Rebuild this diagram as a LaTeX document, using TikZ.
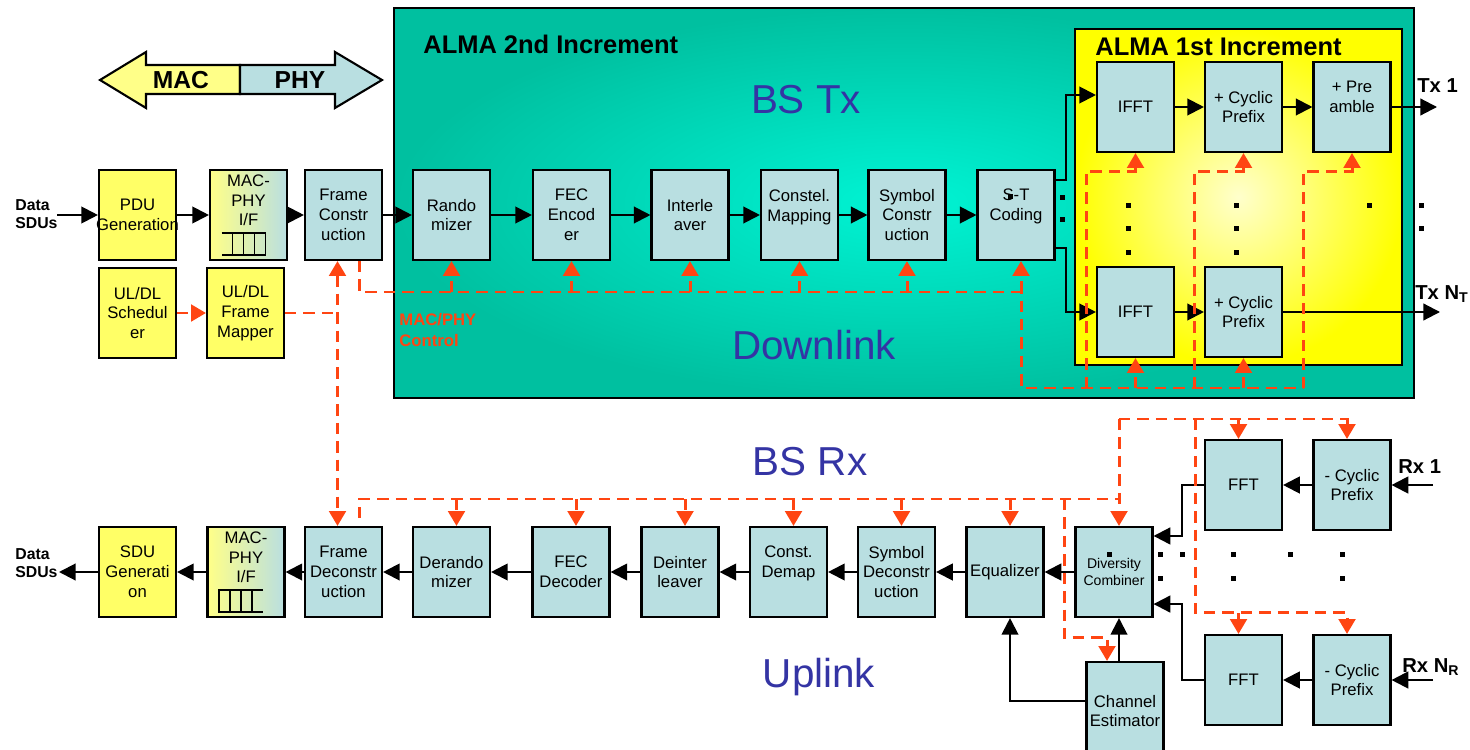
\documentclass[tikz,border=0pt]{standalone}
\usepackage{fontspec}
\setmainfont{Liberation Sans}
\usetikzlibrary{arrows.meta,calc,positioning}
\definecolor{ALMATeal}{HTML}{00C0A0}
\definecolor{ALMATealHi}{HTML}{00F4D4}
\definecolor{ALMAYellow}{HTML}{FFFF00}
\definecolor{ALMAYellowHi}{HTML}{FFFFCC}
\definecolor{BoxBlue}{HTML}{B9DFE1}
\definecolor{BoxYellow}{HTML}{FFFF66}
\definecolor{IFYellow}{HTML}{FFFF88}
\definecolor{CtlRed}{HTML}{FF4512}
\definecolor{LinkBlue}{HTML}{3434A4}
\tikzset{
  blk/.style={draw,line width=1.2pt,fill=BoxBlue,minimum width=1.54cm,minimum height=1.8cm,
    inner sep=1pt,align=center,font=\fontsize{9.5}{11.3}\selectfont},
  macblk/.style={blk,fill=BoxYellow},
  blktext/.style={align=center,inner sep=0pt,font=\fontsize{9.5}{11.3}\selectfont},
  flow/.style={line width=1.2pt,-{Triangle[length=9.5pt,width=9.5pt]}},
  ctl/.style={draw=CtlRed,line width=1.7pt,dash pattern=on 6.5pt off 4pt},
  ctltip/.style={ctl,-{Triangle[length=8.5pt,width=9.5pt]}},
  ctlboth/.style={ctl,{Triangle[length=8.5pt,width=9.5pt]}-{Triangle[length=8.5pt,width=9.5pt]}},
  incrname/.style={font=\fontsize{14.5}{17}\selectfont\bfseries,inner sep=0pt},
  linkname/.style={font=\fontsize{23}{26}\selectfont,text=LinkBlue},
  portname/.style={font=\fontsize{11.5}{13}\selectfont\bfseries,inner sep=0pt},
  sduname/.style={font=\fontsize{9}{10.5}\selectfont\bfseries,align=left,inner sep=0pt},
  ctlname/.style={font=\fontsize{9.5}{12}\selectfont\bfseries,text=CtlRed,align=left,inner sep=0pt},
  layername/.style={font=\fontsize{14}{16}\selectfont\bfseries}
}
\newcommand{\ifbox}[3]{% MAC-PHY interface box; #3=1 closes the queue on the right, -1 on the left
  \node[blk,left color=IFYellow,right color=BoxBlue] (#1) at #2 {};
  \node[blktext,below=3pt of #1.north] (#1txt) {MAC-\\PHY\\I/F};
  \draw[line width=1.1pt] ($(#1.south)+(-5-22*#3,-28)$) -- ++(44*#3,0) -- ++(0,22) -- ++(-44*#3,0)
    ($(#1.south)+(-16,-28)$) -- ++(0,22) ($(#1.south)+(-5,-28)$) -- ++(0,22)
    ($(#1.south)+(6,-28)$) -- ++(0,22);
}
\newcommand{\ctlup}[2]{\draw[ctltip] (#1.south |- #2) -- (#1.south);}
\newcommand{\ctldown}[2]{\draw[ctltip] ($(#1.north |- #2)+(5,0)$) -- ($(#1.north)+(5,0)$);}
\newcommand{\sqdot}[2]{\fill (#1,#2) +(-2.5,-2.5) rectangle +(2.5,2.5);}

\begin{document}
\begin{tikzpicture}[x=0.02cm,y=-0.02cm]
  \useasboundingbox (0,0) rectangle (1470,750);

  % MAC / PHY split
  \draw[line width=1.2pt,fill=IFYellow] (100,80) -- (146,52) -- (146,65) -- (240,65) -- (240,94) -- (146,94) -- (146,108) -- cycle;
  \draw[line width=1.2pt,fill=BoxBlue] (240,65) -- (335,65) -- (335,52) -- (382,80) -- (335,108) -- (335,94) -- (240,94) -- cycle;
  \node[layername] (mac) at (181,80) {MAC};
  \node[layername] (phy) at (300,80) {PHY};

  % increments
  \shadedraw[inner color=ALMATealHi,outer color=ALMATeal,line width=1.2pt] (394,8) rectangle (1414,398);
  \shadedraw[inner color=ALMAYellowHi,outer color=ALMAYellow,line width=1.2pt] (1075,29) rectangle (1402,365);
  \node[incrname,anchor=west] (alma2) at (423,44) {ALMA 2nd Increment};
  \node[incrname,anchor=west] (alma1) at (1095,47) {ALMA 1st Increment};
  \node[linkname] (bstx) at (806,100) {BS Tx};
  \node[linkname] (dl) at (814,345) {Downlink};
  \node[linkname] (bsrx) at (810,462) {BS Rx};
  \node[linkname] (ul) at (819,677) {Uplink};
  \node[ctlname,anchor=north west] (ctltxt) at (399,313) {MAC/PHY\\Control};

  % downlink
  \node[sduname,anchor=west] (sdutx) at (15,214) {Data\\SDUs};
  \coordinate (sduin) at (57,215);
  \node[macblk] (pdu) at (137.5,215) {PDU\\\makebox[0pt]{Generation}};
  \ifbox{ifmactx}{(248.5,215)}{1}
  \node[blk] (framecon) at (343.5,215) {Frame\\Constr\\uction};
  \node[blk] (rando) at (451.5,215) {Rando\\mizer};
  \node[blk] (fecenc) at (571.5,215) {FEC\\Encod\\er};
  \node[blk] (interl) at (690,215) {Interle\\aver};
  \node[blk] (constmap) at (799.5,215) {Constel.\\Mapping\\\phantom{M}};
  \node[blk] (symcon) at (907,215) {Symbol\\Constr\\uction};
  \node[blk] (stcod) at (1016,215) {S-T\\Coding\\\phantom{M}};
  \node[macblk] (sched) at (137.5,313) {UL/DL\\Schedul\\er};
  \node[macblk] (mapper) at (245.5,313) {UL/DL\\Frame\\Mapper};

  \node[blk] (ifftA) at (1135.5,107) {IFFT};
  \node[blk] (cpA) at (1243.5,107) {+ Cyclic\\Prefix};
  \node[blk] (pream) at (1352,107) {+ Pre\\amble\\\phantom{M}};
  \node[blk] (ifftB) at (1135.5,312) {IFFT};
  \node[blk] (cpB) at (1243.5,312) {+ Cyclic\\Prefix};
  \coordinate (txA) at (1437,107);
  \coordinate (txB) at (1440,312);
  \node[portname,anchor=west] (tx1) at (1417,86) {Tx 1};
  \node[portname,anchor=west] (txn) at (1415,294) {Tx N\textsubscript{T}};

  \draw[flow] (sduin) -- (pdu);
  \draw[flow] (pdu) -- (ifmactx);
  \draw[flow] (ifmactx) -- (framecon);
  \draw[flow] (framecon) -- (rando);
  \draw[flow] (rando) -- (fecenc);
  \draw[flow] (fecenc) -- (interl);
  \draw[flow] (interl) -- (constmap);
  \draw[flow] (constmap) -- (symcon);
  \draw[flow] (symcon) -- (stcod);
  \draw[flow] ($(stcod.north east)+(0,11)$) -- ++(10,0) |- ($(ifftA.west)+(0,-12)$);
  \draw[flow] ($(stcod.south east)+(0,-13)$) -- ++(10,0) |- (ifftB.west);
  \draw[flow] (ifftA) -- (cpA);
  \draw[flow] (cpA) -- (pream);
  \draw[flow] (pream) -- (txA);
  \draw[flow] (ifftB) -- (cpB);
  \draw[flow] (cpB) -- (txB);

  % uplink
  \node[sduname,anchor=west] (sdurx) at (15,563) {Data\\SDUs};
  \coordinate (sduout) at (59,572);
  \node[macblk] (sdugen) at (137.5,572) {SDU\\Generati\\on};
  \ifbox{ifmacrx}{(246,572)}{-1}
  \node[blk] (framedec) at (343.5,572) {Frame\\Deconstr\\uction};
  \node[blk] (derando) at (451.5,572) {Derando\\mizer};
  \node[blk] (fecdec) at (571,572) {FEC\\Decoder};
  \node[blk] (deintl) at (680,572) {Deinter\\leaver};
  \node[blk] (demap) at (788.5,572) {Const.\\Demap\\\phantom{M}};
  \node[blk] (symdec) at (896.5,572) {Symbol\\Deconstr\\uction};
  \node[blk] (equal) at (1005,572) {Equalizer};
  \node[blk,font=\fontsize{8}{10}\selectfont] (divcomb) at (1114,572) {Diversity\\Combiner};
  \node[blk,minimum height=1.96cm] (chest) at (1125,711) {Channel\\Estimator};
  \node[blk] (fftA) at (1243.5,485) {FFT};
  \node[blk] (rcpA) at (1352,485) {- Cyclic\\Prefix};
  \node[blk] (fftB) at (1243.5,680) {FFT};
  \node[blk] (rcpB) at (1352,680) {- Cyclic\\Prefix};
  \coordinate (rxA) at (1433,485);
  \coordinate (rxB) at (1433,680);
  \node[portname,anchor=west] (rx1) at (1398,467) {Rx 1};
  \node[portname,anchor=west] (rxn) at (1402,667) {Rx N\textsubscript{R}};

  \draw[flow] (rxA) -- (rcpA);
  \draw[flow] (rcpA) -- (fftA);
  \draw[flow] (fftA.west) -- ++(-22,0) |- ($(divcomb.north east)+(0,10)$);
  \draw[flow] (rxB) -- (rcpB);
  \draw[flow] (rcpB) -- (fftB);
  \draw[flow] (fftB.west) -- ++(-22,0) |- ($(divcomb.south east)+(0,-14)$);
  \draw[flow] ($(chest.north)+(-6,0)$) -- ($(divcomb.south)+(5,0)$);
  \draw[flow] ($(chest.west)+(0,-10)$) -| ($(equal.south)+(5,0)$);
  \draw[flow] (divcomb) -- (equal);
  \draw[flow] (equal) -- (symdec);
  \draw[flow] (symdec) -- (demap);
  \draw[flow] (demap) -- (deintl);
  \draw[flow] (deintl) -- (fecdec);
  \draw[flow] (fecdec) -- (derando);
  \draw[flow] (derando) -- (framedec);
  \draw[flow] (framedec) -- (ifmacrx);
  \draw[flow] (ifmacrx) -- (sdugen);
  \draw[flow] (sdugen) -- (sduout);

  % MAC/PHY control
  \coordinate (tbus) at (1021,292);
  \coordinate (ybus) at (1303,388);
  \coordinate (rbus) at (1119,499);
  \coordinate (fbus) at (1119,419);
  \draw[ctltip] (sched) -- (mapper);
  \draw[ctl] (mapper.east) -- ++(53,0);
  \draw[ctlboth] ($(framecon.south)+(-6,0)$) -- ($(framedec.north)+(-6,0)$);

  \draw[ctl] ($(framecon.south)+(16,0)$) |- (tbus) |- (ybus);
  \ctlup{rando}{tbus}
  \ctlup{fecenc}{tbus}
  \ctlup{interl}{tbus}
  \ctlup{constmap}{tbus}
  \ctlup{symcon}{tbus}
  \draw[ctltip] (tbus) -- (tbus |- stcod.south);
  \draw[ctltip] (1086,388) |- ($(ifftA.south)+(0,18)$) -- (ifftA.south);
  \draw[ctltip] (1194,388) |- ($(cpA.south)+(0,18)$) -- (cpA.south);
  \draw[ctltip] (ybus) |- ($(pream.south)+(0,18)$) -- (pream.south);
  \ctlup{ifftB}{ybus}
  \ctlup{cpB}{ybus}

  \draw[ctl] ($(framedec.north)+(16,-8)$) |- (rbus);
  \ctldown{derando}{rbus}
  \ctldown{fecdec}{rbus}
  \ctldown{deintl}{rbus}
  \ctldown{demap}{rbus}
  \ctldown{symdec}{rbus}
  \ctldown{equal}{rbus}
  \draw[ctltip] (fbus) -- (fbus |- divcomb.north);
  \draw[ctltip] (fbus) -| ($(rcpA.north)+(-5,0)$);
  \draw[ctltip] ($(fftA.north |- fbus)+(-5,0)$) -- ($(fftA.north)+(-5,0)$);
  \draw[ctltip] (1195,419) |- ($(rcpB.north)+(-5,-21)$) -- ($(rcpB.north)+(-5,0)$);
  \draw[ctltip] ($(fftB.north)+(-5,-21)$) -- ($(fftB.north)+(-5,0)$);
  \draw[ctltip] (1064,499) |- ($(chest.north)+(-18,-23)$) -- ($(chest.north)+(-18,0)$);

  % antenna branch dots
  \sqdot{1062}{197} \sqdot{1062}{219} \sqdot{1010}{196}
  \sqdot{1128}{205} \sqdot{1128}{228} \sqdot{1128}{252}
  \sqdot{1236}{205} \sqdot{1236}{228} \sqdot{1236}{252}
  \sqdot{1369}{205} \sqdot{1421}{205} \sqdot{1421}{228}
  \sqdot{1109}{554} \sqdot{1160}{554} \sqdot{1182}{554} \sqdot{1233}{554} \sqdot{1290}{554} \sqdot{1342}{554}
  \sqdot{1160}{578} \sqdot{1233}{578} \sqdot{1342}{578}
\end{tikzpicture}
\end{document}
